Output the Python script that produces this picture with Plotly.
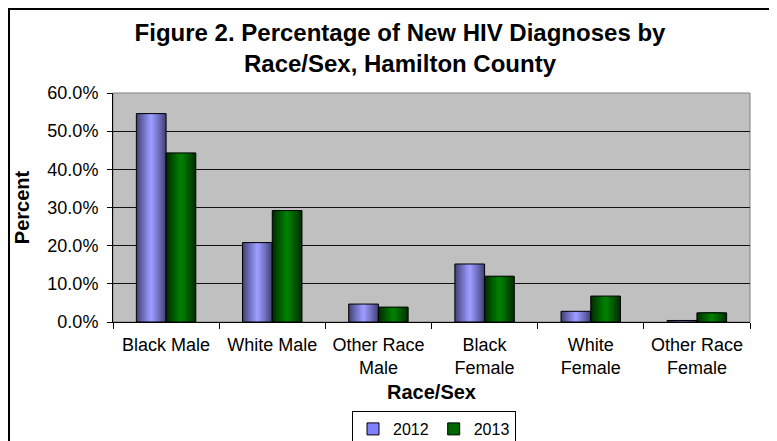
import plotly.graph_objects as go

categories = ["Black Male", "White Male", "Other Race<br>Male", "Black<br>Female", "White<br>Female", "Other Race<br>Female"]
series_names = ["2012", "2013"]
values_2012 = [0.546, 0.208, 0.047, 0.152, 0.028, 0.004]
values_2013 = [0.443, 0.292, 0.039, 0.120, 0.068, 0.024]
y_ticks = [0.0, 0.1, 0.2, 0.3, 0.4, 0.5, 0.6]

FONT = "Liberation Sans, Arial, sans-serif"

def mix(c1, c2, t):
    return "rgb(%d,%d,%d)" % tuple(round(a + (b - a) * t) for a, b in zip(c1, c2))

styles = {
    "2012": {"edge": (64, 64, 118), "center": (155, 155, 255), "legend": "#8080FF", "pos": -0.14},
    "2013": {"edge": (0, 44, 0), "center": (0, 128, 0), "legend": "#006600", "pos": 0.14},
}
BAR_W = 0.28
N = 12

fig = go.Figure()
for name, vals in zip(series_names, [values_2012, values_2013]):
    st = styles[name]
    for k in range(N):
        frac = 1 - k / N
        w = BAR_W * frac
        t = (k / (N - 1)) ** 0.9
        fig.add_trace(go.Bar(
            x=categories, y=vals, width=w, offset=st["pos"] - w / 2,
            marker=dict(color=mix(st["edge"], st["center"], t), line=dict(width=0)),
            showlegend=False, hoverinfo="skip",
        ))
    fig.add_trace(go.Bar(
        x=categories, y=vals, width=BAR_W, offset=st["pos"] - BAR_W / 2,
        marker=dict(color="rgba(0,0,0,0)", line=dict(color="black", width=1)),
        showlegend=False, name=name,
    ))
    fig.add_trace(go.Bar(
        x=[None], y=[None], name=name,
        marker=dict(color=st["legend"], line=dict(color="black", width=1)),
        showlegend=True,
    ))

# page offset caused by the default body margin of the written html page
OFF = 8
W, H = 777 - OFF, 441 - OFF
L, R, T, B = 113 - OFF, 750 - OFF, 93 - OFF, 322 - OFF
pw, ph = R - L, B - T

def px(x):
    return (x - OFF - L) / pw

def py(y):
    return (B - (y - OFF)) / ph

fig.update_layout(
    width=W, height=H,
    margin=dict(l=L, r=W - R, t=T, b=H - B, autoexpand=False),
    paper_bgcolor="white", plot_bgcolor="#C0C0C0",
    barmode="overlay",
    font=dict(family=FONT, size=18, color="black"),
    title=dict(
        text="<b>Figure 2. Percentage of New HIV Diagnoses by<br>Race/Sex, Hamilton County</b>",
        x=(400 - OFF) / W, xanchor="center", y=1 - (41 - OFF) / H, yanchor="middle",
        font=dict(family=FONT, size=24, color="black"),
    ),
    xaxis=dict(
        type="category", categoryorder="array", categoryarray=categories,
        tickson="boundaries", ticks="outside", ticklen=6, tickcolor="black",
        showline=True, linecolor="black", linewidth=1,
        showgrid=False, tickfont=dict(size=18), automargin=False,
        ticklabelstandoff=6,
        title=dict(text="<b>Race/Sex</b>", font=dict(size=20), standoff=7),
        range=[-0.5, 5.5],
    ),
    yaxis=dict(
        range=[0, 0.6], tickvals=y_ticks, tickformat=".1%",
        ticks="outside", ticklen=5, tickcolor="black",
        showline=True, linecolor="black", linewidth=1,
        showgrid=True, gridcolor="#111111", gridwidth=1,
        zeroline=False, tickfont=dict(size=18), automargin=False,
        ticklabelstandoff=5,
        title=dict(text="<b>Percent</b>", font=dict(size=20), standoff=12),
    ),
    legend=dict(
        orientation="h", xref="container", yref="container",
        x=(434 - OFF) / W, xanchor="center", y=1 - (411 - OFF) / H, yanchor="top",
        bordercolor="black", borderwidth=1, bgcolor="white",
        font=dict(size=16), itemwidth=30, tracegroupgap=0,
    ),
    shapes=[
        dict(type="rect", xref="paper", yref="paper", x0=0, x1=1, y0=0, y1=1,
             line=dict(color="#808080", width=1), layer="below"),
        dict(type="line", xref="paper", yref="paper", x0=px(OFF + 1), x1=px(OFF + 1),
             y0=py(445), y1=py(OFF), line=dict(color="black", width=2)),
        dict(type="line", xref="paper", yref="paper", x0=px(OFF), x1=px(780),
             y0=py(OFF + 1), y1=py(OFF + 1), line=dict(color="black", width=2)),
    ],
)

fig.write_html("out.html")
